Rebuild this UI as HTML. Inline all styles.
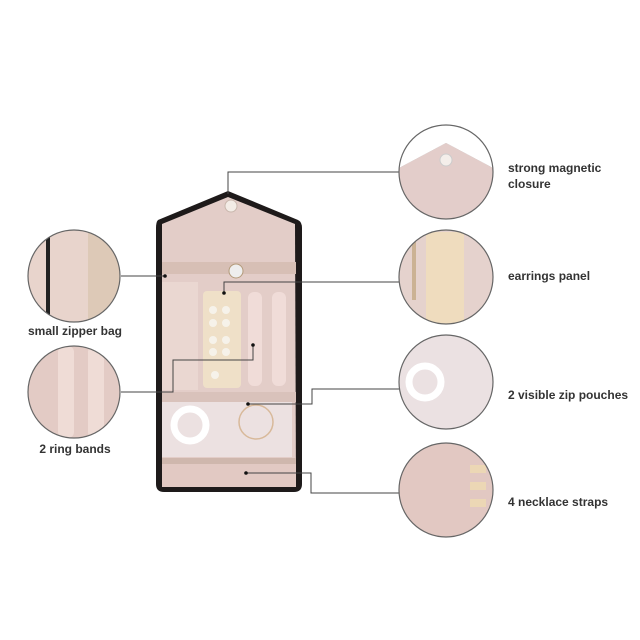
<!DOCTYPE html>
<html><head><meta charset="utf-8"><style>
html,body{margin:0;padding:0;background:#fff;width:640px;height:640px;overflow:hidden}
text{font-family:"Liberation Sans",sans-serif;font-weight:bold;font-size:12px;fill:#333}
</style></head><body>
<svg width="640" height="640" viewBox="0 0 640 640" xmlns="http://www.w3.org/2000/svg">
<defs>
<clipPath id="c1"><circle cx="74" cy="276" r="46"/></clipPath>
<clipPath id="c2"><circle cx="74" cy="392" r="46"/></clipPath>
<clipPath id="c3"><circle cx="446" cy="172" r="47"/></clipPath>
<clipPath id="c4"><circle cx="446" cy="277" r="47"/></clipPath>
<clipPath id="c5"><circle cx="446" cy="382" r="47"/></clipPath>
<clipPath id="c6"><circle cx="446" cy="490" r="47"/></clipPath>
</defs>
<!-- bag -->
<path d="M158 220 L228 191 L298 220 Q302 222 302 228 L302 484 Q302 492 294 492 L164 492 Q156 492 156 484 L156 228 Q156 222 158 220Z" fill="#1e1a1a"/>
<path d="M162 224 L228 197 L295 224 L296 484 Q296 487 292 487 L166 487 Q162 487 162 484Z" fill="#e3cdc8"/>
<rect x="162" y="262" width="134" height="12" fill="#d7bfb5"/>
<circle cx="231" cy="206" r="6" fill="#f3ece6" stroke="#c9b7ad"/>
<circle cx="236" cy="271" r="7" fill="#eee" stroke="#b39a7a"/>
<rect x="162" y="282" width="36" height="108" fill="#ead7d1"/>
<rect x="203" y="291" width="38" height="97" rx="4" fill="#efe0c8"/>
<g fill="#f6f2ea"><circle cx="213" cy="310" r="4"/><circle cx="226" cy="310" r="4"/><circle cx="213" cy="323" r="4"/><circle cx="226" cy="323" r="4"/><circle cx="213" cy="340" r="4"/><circle cx="226" cy="340" r="4"/><circle cx="213" cy="352" r="4"/><circle cx="226" cy="352" r="4"/><circle cx="215" cy="375" r="4"/></g>
<rect x="248" y="292" width="14" height="94" rx="6" fill="#f0dcd8"/>
<rect x="272" y="292" width="14" height="94" rx="6" fill="#f0dcd8"/>
<rect x="162" y="392" width="134" height="10" fill="#d9c2bb"/>
<rect x="162" y="402" width="130" height="55" fill="#ece1e1"/>
<circle cx="190" cy="425" r="16" fill="none" stroke="#fff" stroke-width="7"/>
<circle cx="256" cy="422" r="17" fill="none" stroke="#d8b99a" stroke-width="1.5"/>
<rect x="162" y="458" width="134" height="6" fill="#cfb7ad"/>
<rect x="162" y="464" width="134" height="23" fill="#e2c9c3"/>
<!-- connectors -->
<g stroke="#444" stroke-width="1" fill="none">
<polyline points="400,172 228,172 228,194"/>
<polyline points="400,282 224,282 224,293"/>
<polyline points="400,389 312,389 312,404 248,404"/>
<polyline points="400,493 311,493 311,473 246,473"/>
<polyline points="121,276 165,276"/>
<polyline points="121,392 173,392 173,360 253,360 253,345"/>
</g>
<g fill="#111"><circle cx="224" cy="293" r="1.8"/><circle cx="248" cy="404" r="1.8"/><circle cx="246" cy="473" r="1.8"/><circle cx="165" cy="276" r="1.8"/><circle cx="253" cy="345" r="1.8"/></g>
<!-- left circles -->
<g clip-path="url(#c1)"><rect x="28" y="230" width="92" height="92" fill="#e8d4cc"/><rect x="46" y="230" width="4" height="92" fill="#222"/><rect x="88" y="230" width="32" height="92" fill="#ddc9b7"/></g>
<circle cx="74" cy="276" r="46" fill="none" stroke="#666" stroke-width="1.2"/>
<g clip-path="url(#c2)"><rect x="28" y="346" width="92" height="92" fill="#e3cbc5"/><rect x="58" y="346" width="16" height="92" rx="6" fill="#efdcd6"/><rect x="88" y="346" width="16" height="92" rx="6" fill="#efdcd6"/></g>
<circle cx="74" cy="392" r="46" fill="none" stroke="#666" stroke-width="1.2"/>
<!-- right circles -->
<g clip-path="url(#c3)"><rect x="399" y="125" width="94" height="94" fill="#e3cdca"/><path d="M399 165 L446 140 L493 165" stroke="#222" stroke-width="5" fill="none"/><path d="M399 168 L446 143 L493 168 L493 125 L399 125Z" fill="#fff"/><circle cx="446" cy="160" r="6" fill="#f4eeea" stroke="#ccc"/></g>
<circle cx="446" cy="172" r="47" fill="none" stroke="#666" stroke-width="1.2"/>
<g clip-path="url(#c4)"><rect x="399" y="230" width="94" height="94" fill="#e5d2cd"/><rect x="426" y="232" width="38" height="94" rx="4" fill="#efdcbe"/><rect x="412" y="240" width="4" height="60" fill="#cbb294"/></g>
<circle cx="446" cy="277" r="47" fill="none" stroke="#666" stroke-width="1.2"/>
<g clip-path="url(#c5)"><rect x="399" y="335" width="94" height="94" fill="#ebe1e2"/><circle cx="425" cy="382" r="16" fill="none" stroke="#fff" stroke-width="7"/></g>
<circle cx="446" cy="382" r="47" fill="none" stroke="#666" stroke-width="1.2"/>
<g clip-path="url(#c6)"><rect x="399" y="443" width="94" height="94" fill="#e2c8c2"/><rect x="470" y="465" width="16" height="8" fill="#ecd7b5"/><rect x="470" y="482" width="16" height="8" fill="#ecd7b5"/><rect x="470" y="499" width="16" height="8" fill="#ecd7b5"/></g>
<circle cx="446" cy="490" r="47" fill="none" stroke="#666" stroke-width="1.2"/>
<!-- labels -->
<text x="75" y="335" text-anchor="middle">small zipper bag</text>
<text x="75" y="453" text-anchor="middle">2 ring bands</text>
<text x="508" y="172">strong magnetic</text>
<text x="508" y="188">closure</text>
<text x="508" y="280">earrings panel</text>
<text x="508" y="399">2 visible zip pouches</text>
<text x="508" y="506">4 necklace straps</text>
</svg>
</body></html>
